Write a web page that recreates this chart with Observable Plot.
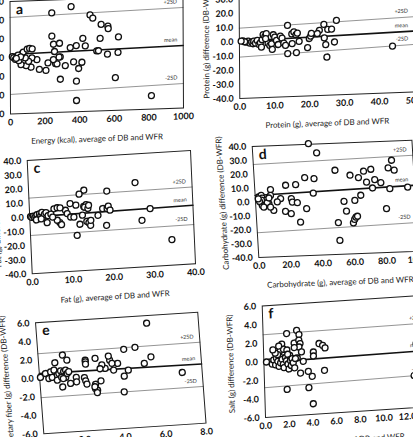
<!DOCTYPE html>
<html><head><meta charset="utf-8">
<script src="https://cdn.jsdelivr.net/npm/d3@7"></script>
<script src="https://cdn.jsdelivr.net/npm/@observablehq/plot@0.6"></script>
<style>
html,body{margin:0;padding:0;background:#fff;}
#page{position:relative;width:413px;height:437px;overflow:hidden;background:#fff;}
#page svg{position:absolute;left:0;top:0;transform-origin:0 0;max-width:none!important;}
</style></head><body><div id="page"></div>
<script>
// ---- a: Energy ----
const energyAvg = [353,241,462,478,526,565,567,626,241,250,285,256,347,382,420,434,520,500,510,562,623,607,382,289,382,815,366,414,395,318,289,282,262,270,249,218,206,168,154,120,92,62,125,106,87,69,75,98,112,127,12,20,30,40,50,45,60,35];
const energyDiff = [522,463,428,392,323,300,275,183,215,128,136,50,86,105,180,98,174,42,42,3,17,-251,-275,-248,-481,-456,-68,-75,-140,-104,-10,-12,-80,-82,-37,-69,-149,-136,-31,-109,-90,-77,-10,-45,-8,38,55,86,92,86,10,0,-20,15,-35,25,5,-10];
const energyEnds = [0,1000], energyUpper = [430,472], energyMean = [35,67], energyLower = [-392,-339];
const energyXTicks = [0,200,400,600,800,1000], energyYTicks = [-600,-400,-200,0,200,400,600];

// ---- b: Protein ----
const proteinAvg = [27.8,24.2,25.3,26.4,22.9,22.3,24.3,27.2,24.7,25.0,43.8,13.8,15,15.6,16.2,16.6,15.1,13.8,16.3,17.1,19.5,20,20.4,20.6,
  2.0,2.5,3.0,3.5,3.9,4.1,4.6,5.1,5.6,6.0,6.5,6.8,7.3,7.7,8.2,8.7,9.2,9.4,9.7,10.1,10.6,11.1,11.7,12.2,12.7,13.2,6.3,7.5,1.0,1.5,0.5];
const proteinDiff = [12.5,10,6.4,6.4,5.9,3.7,0.4,-2.7,-4.3,-13.1,-7.2,10.2,4.1,5.5,3.5,4.5,-2.8,-9.7,-9.2,-1.3,-6,0.4,2,3.9,
  -0.5,0.2,-1.3,-0.6,-1.8,0.0,-1.4,0.4,-2.4,-1.3,0.8,4.3,3.0,4.9,-1.8,-3.4,-2.3,-6.3,4.0,2.3,-0.1,-3.0,2.9,1.4,-2.2,-3.8,-4.4,1.4,0.5,-0.2,0.3];
const proteinEnds = [0,50], proteinUpper = [9.5,13], proteinMean = [0.35,2.9], proteinLower = [-10.9,-6.5];
const proteinXTicks = [0,10,20,30,40,50], proteinYTicks = [-40,-30,-20,-10,0,10,20,30,40];

// ---- c: Fat ----
const fatAvg = [26.1,34.5,29.5,27.4,19.1,13.5,12.3,10,11.4,12.2,13.3,13.9,13.5,14.3,14.5,12.9,13.9,14.4,14.8,14.9,16.7,17.9,19,19.3,19.7,18.7,8.8,9.2,10,10.8,11.4,7.3,7.7,6.7,6,6.8,7.5,4.2,
  0.2,0.5,0.9,1.2,1.5,1.8,2.1,2.4,2.7,3,3.3,3.6,1.6,2.8,4,4.5,5.2,5.6];
const fatDiff = [19.8,-22,0.8,-7.1,15,16.6,14,7.8,-14.9,-7.2,5.2,6.4,4.6,3.6,5.8,-0.9,-5.4,-6.5,-8.4,-4.9,-1.7,2.9,2.7,4.3,1.4,-9.1,3.3,0.9,-1.7,-1.9,6.4,-5.2,-6.7,-3.4,4.8,5.4,5.2,-4.7,
  0.3,-0.2,0.6,-0.6,0.4,1.4,-1.2,1.9,0.3,2.8,-0.4,1.3,-2.3,-1.8,2.4,0.3,1.2,-1];
const fatEnds = [0,40], fatUpper = [13.4,14.2], fatMean = [0,1.3], fatLower = [-13,-12.3];
const fatXTicks = [0,10,20,30,40], fatYTicks = [-40,-30,-20,-10,0,10,20,30,40];

// ---- d: Carbohydrate ----
const carbAvg = [35.2,40,50.8,60,65.2,68.6,73.2,70.1,75.3,79,73.6,86.5,84.1,87.8,84.4,95.6,81.6,66,62.1,55.3,56.5,51,60.4,61.3,62.2,63.2,51.3,31.7,31.6,37.4,36.4,25.7,19.4,15.8,22.5,23,26.1,18.4,21.9,27.4,11.1,13.6,9.8,9.6,8.3,
  2.2,2.8,3.8,4.3,3.1,4.8,4.1,6.3,7.3,5,9.2,8.5,3.8,2.5,1.8];
const carbDiff = [40.5,33.6,20.6,16.6,14.6,19.1,20.3,11.2,12.8,10.4,6.8,26.2,20.8,19,5.8,6.5,-8.4,1.9,-1.6,-2,-9.1,-17.2,-17.7,-15.3,-13.7,-13.1,-30,-6.2,16.1,15.2,4.8,11.4,11.2,1.7,1.4,-1.1,-1.7,-7.6,-9.4,-15.7,-6.6,-0.6,8.5,4.4,-1.6,
  3.5,1.8,4.6,2.6,-0.2,-1.4,-2.6,0.9,-0.8,-3.9,-4.1,2.5,1.1,0.3,2.2];
const carbEnds = [0,100], carbUpper = [27,29.2], carbMean = [4.7,7.6], carbLower = [-22.2,-19.3];
const carbXTicks = [0,20,40,60,80,100], carbYTicks = [-40,-30,-20,-10,0,10,20,30,40];

// ---- e: Dietary fiber ----
const fiberAvg = [5.45,4.79,4.23,5.54,5.19,7.02,4.38,4.16,4.1,3.88,3.66,3.5,3.6,3.45,3.25,3.1,3.0,2.79,3.0,2.72,2.7,2.8,2.68,2.78,2.3,2.3,2.3,2.2,2.25,2.3,1.8,1.8,1.5,1.1,1.4,1.2,0.8,
  0.04,0.3,0.45,0.56,0.62,0.73,0.88,0.96,1.05,1.12,1.2,1.19,1.3,1.28,1.37,1.45,0.86,1.08,1.16];
const fiberDiff = [5.17,2.66,2.52,1.52,0.86,-0.38,0.25,-0.37,-2.06,1.05,0.36,1.45,1.1,1.9,0.6,1.0,0.6,1.75,-0.71,-1.04,-1.5,-1.7,-1.3,-1.95,1.62,1.44,1.2,-0.25,-0.6,-0.96,-0.16,-0.64,-0.77,-1.1,1.76,2.34,1.56,
  0.08,0.47,-0.09,0.61,0,0.77,0.2,0.38,0.65,0.17,0.55,0,0.69,-0.1,0.32,0.5,-0.33,-0.05,-0.2];
const fiberEnds = [0,8], fiberUpper = [2.65,2.75], fiberMean = [0.5,0.4], fiberLower = [-2.1,-2.03];
const fiberXTicks = [0,2,4,6,8], fiberYTicks = [-6,-4,-2,0,2,4,6];

// ---- f: Salt ----
const saltAvg = [1.99,2.84,3.03,2.6,3.0,3.1,3.0,3.2,2.6,2.83,3.33,3.07,3.73,4.05,3.74,4.07,4.2,4.2,4.7,5.0,5.2,5.1,1.9,12.65,12.9,
  0.56,0.7,0.84,0.98,1.07,1.18,1.27,1.41,1.41,1.55,1.63,1.69,1.74,1.83,1.91,2.03,2.11,2.2,2.25,2.31,2.39,2.48,2.59,2.67,1.41,1.55,1.69,1.97,2.03,1.18,0.98,0.79,1.29,0.22];
const saltDiff = [2.86,3.14,2.66,1.79,2.06,1.69,1.33,0.78,1.3,0.16,-0.24,-1.48,-1.35,-1.92,-3.11,-4.87,0.69,0.26,1.56,1.34,1.04,-1.36,-3.14,-2.55,0.87,
  -0.06,-0.31,0.12,-0.42,0.3,-0.06,-0.6,0.48,-0.24,0.12,-0.42,-0.78,0.84,0.3,-0.06,-0.42,-0.96,0.48,-0.06,-0.6,0.12,-0.31,-0.88,0.12,1.09,1.75,1.2,1.09,0.63,0.66,0.84,1.2,1.57,-0.05];
const saltEnds = [0,14], saltUpper = [2.9,3.0], saltMean = [-0.1,0.05], saltLower = [-2.8,-2.55];
const saltXTicks = [0,2,4,6,8,10,12,14], saltYTicks = [-6,-4,-2,0,2,4,6];

// ---- layout (frame corners of each photographed panel) ----
const ML = 50, MR = 12, MT = 24, MB = 46;
const panels = [
  {letter:"a", xs:energyAvg, ys:energyDiff, xd:[0,1000], yd:[-600,600], xt:energyXTicks, yt:energyYTicks, dig:0,
   ends:energyEnds, up:energyUpper, mean:energyMean, low:energyLower,
   xTitle:"Energy (kcal), average of DB and WFR", yTitle:"Energy (kcal) difference (DB-WFR)",
   BL:[10,113.5], BR:[183,107.5], TL:[9.5,1]},
  {letter:"b", xs:proteinAvg, ys:proteinDiff, xd:[0,50], yd:[-40,40], xt:proteinXTicks, yt:proteinYTicks, dig:1,
   ends:proteinEnds, up:proteinUpper, mean:proteinMean, low:proteinLower,
   xTitle:"Protein (g), average of DB and WFR", yTitle:"Protein (g) difference (DB-WFR)",
   BL:[239.3,98], BR:[414,91.5], TL:[238.5,-15.6]},
  {letter:"c", xs:fatAvg, ys:fatDiff, xd:[0,40], yd:[-40,40], xt:fatXTicks, yt:fatYTicks, dig:1,
   ends:fatEnds, up:fatUpper, mean:fatMean, low:fatLower,
   xTitle:"Fat (g), average of DB and WFR", yTitle:"Fat (g) difference (DB-WFR)",
   BL:[31.7,273.3], BR:[195,263.3], TL:[26.7,160]},
  {letter:"d", xs:carbAvg, ys:carbDiff, xd:[0,100], yd:[-40,40], xt:carbXTicks, yt:carbYTicks, dig:1,
   ends:carbEnds, up:carbUpper, mean:carbMean, low:carbLower,
   xTitle:"Carbohydrate (g), average of DB and WFR", yTitle:"Carbohydrate (g) difference (DB-WFR)",
   BL:[258.3,257], BR:[418,250.8], TL:[251.7,146]},
  {letter:"e", xs:fiberAvg, ys:fiberDiff, xd:[0,8], yd:[-6,6], xt:fiberXTicks, yt:fiberYTicks, dig:1,
   ends:fiberEnds, up:fiberUpper, mean:fiberMean, low:fiberLower,
   xTitle:"Dietary fiber (g), average of DB and WFR", yTitle:"Dietary fiber (g) difference (DB-WFR)",
   BL:[43.3,433.3], BR:[205.5,422.7], TL:[35,322.3]},
  {letter:"f", xs:saltAvg, ys:saltDiff, xd:[0,14], yd:[-6,6], xt:saltXTicks, yt:saltYTicks, dig:1,
   ends:saltEnds, up:saltUpper, mean:saltMean, low:saltLower,
   xTitle:"Salt (g), average of DB and WFR", yTitle:"Salt (g) difference (DB-WFR)",
   BL:[265,417], BR:[430.5,406], TL:[261.7,305.5]}
];

const page = document.getElementById("page");
const FONT = "Lato, 'Open Sans', 'Liberation Sans', sans-serif";

for (const p of panels) {
  const ux = p.BR[0]-p.BL[0], uy = p.BR[1]-p.BL[1], vx = p.TL[0]-p.BL[0], vy = p.TL[1]-p.BL[1];
  const W = Math.hypot(ux, uy), H = Math.hypot(vx, vy);
  const fmt = d => d.toFixed(p.dig);
  const pts = p.xs.map((x, i) => ({x, y: p.ys[i]}));
  const seg = arr => p.ends.map((x, i) => ({x, y: arr[i]}));
  const lab = [
    {x: p.ends[1], y: p.up[1], t: "+2SD"},
    {x: p.ends[1], y: p.mean[1], t: "mean"},
    {x: p.ends[1], y: p.low[1], t: "-2SD"}
  ];
  const svg = Plot.plot({
    width: ML + W + MR, height: MT + H + MB,
    marginLeft: ML, marginRight: MR, marginTop: MT, marginBottom: MB,
    style: {fontFamily: FONT, background: "transparent", color: "#111"},
    x: {domain: p.xd}, y: {domain: p.yd},
    marks: [
      Plot.line(seg(p.up), {x: "x", y: "y", stroke: "#8a8a8a", strokeWidth: 0.9}),
      Plot.line(seg(p.low), {x: "x", y: "y", stroke: "#8a8a8a", strokeWidth: 0.9}),
      Plot.line(seg(p.mean), {x: "x", y: "y", stroke: "#111", strokeWidth: 1.6}),
      Plot.frame({stroke: "#222", strokeWidth: 1}),
      Plot.axisX({ticks: p.xt, tickFormat: fmt, tickSize: 0, tickPadding: 5, fontSize: 9, fontWeight: "bold", label: null}),
      Plot.axisY({ticks: p.yt, tickFormat: fmt, tickSize: 0, tickPadding: 6, fontSize: 9, fontWeight: "bold", label: null}),
      Plot.text([p.xTitle], {frameAnchor: "bottom", dy: 28, lineAnchor: "middle", fontSize: 8, fill: "#222"}),
      Plot.text([p.yTitle], {frameAnchor: "left", dx: -33, rotate: -90, textAnchor: "middle", lineAnchor: "middle", fontSize: 8, fill: "#222"}),
      Plot.text(lab, {x: "x", y: "y", text: "t", textAnchor: "end", dx: -6, dy: -6, fontSize: 5.5, fill: "#333"}),
      Plot.dot(pts, {x: "x", y: "y", r: 3, stroke: "#111", strokeWidth: 1.3, fill: "#fff"}),
      Plot.text([p.letter], {frameAnchor: "top-left", dx: 6, dy: 3, fontSize: 14, fontWeight: "bold", fill: "#111"})
    ]
  });
  const a = ux / W, b = uy / W, c = -vx / H, d = -vy / H;
  const e = p.BL[0] - a * ML - c * (MT + H);
  const f = p.BL[1] - b * ML - d * (MT + H);
  svg.style.position = "absolute";
  svg.style.left = "0px";
  svg.style.top = "0px";
  svg.style.transformOrigin = "0 0";
  svg.style.transform = `matrix(${a},${b},${c},${d},${e},${f})`;
  page.appendChild(svg);
}
</script></body></html>
